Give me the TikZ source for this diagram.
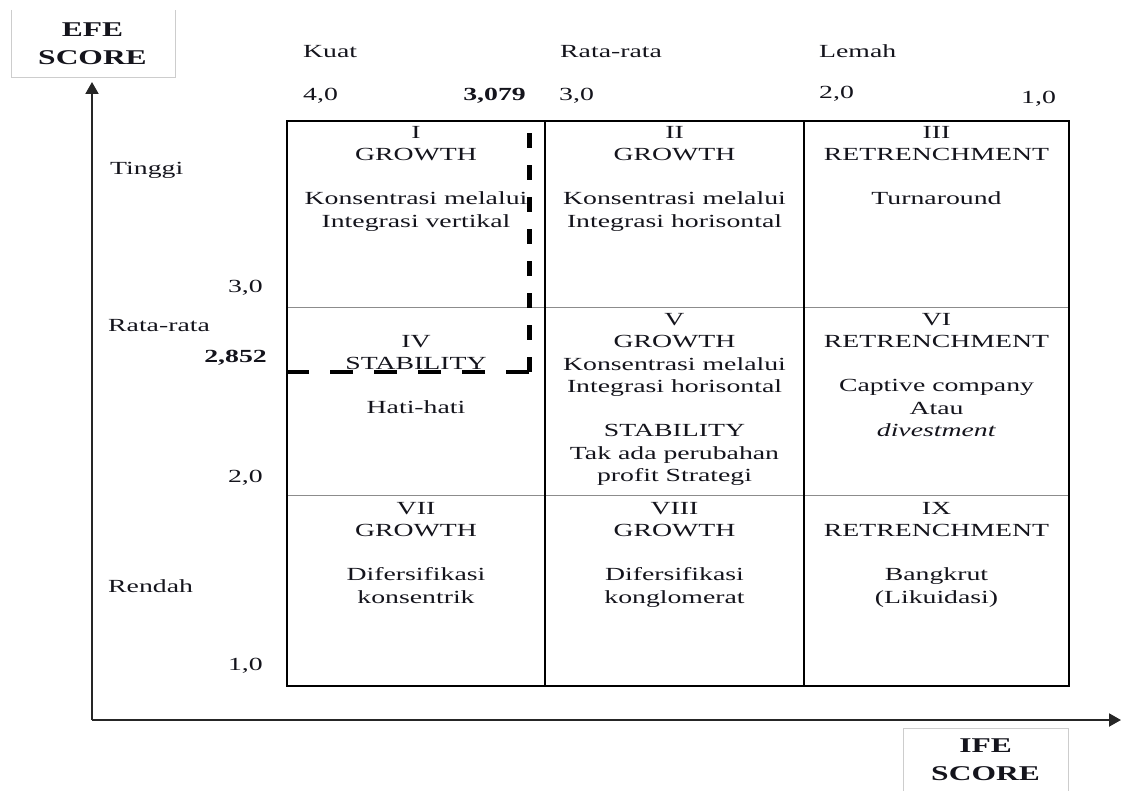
\documentclass[tikz,border=0pt]{standalone}
\usepackage{fontspec}
\setmainfont{Liberation Serif}[FakeStretch=1.5]
\usetikzlibrary{arrows.meta}
\definecolor{txt}{RGB}{20,20,28}
\definecolor{faint}{RGB}{205,205,205}
\begin{document}
\begin{tikzpicture}[x=1pt,y=-1pt,
  lbl/.style={font=\fontsize{18.5}{22.5}\selectfont, inner sep=0pt, text=txt},
  lblw/.style={lbl, anchor=base west},
  lble/.style={lbl, anchor=base east},
  boldlbl/.style={lbl, font=\fontsize{18.5}{22.5}\selectfont\bfseries, anchor=base east},
  cellt/.style={lbl, align=center, anchor=north},
  axistitle/.style={inner sep=0pt, text=txt, align=center, anchor=north,
     font=\fontsize{21}{28}\selectfont\bfseries},
  titlebox/.style={draw=faint, line width=1pt},
  axis/.style={line width=2pt, draw=black!85, -{Triangle[length=12pt,width=13pt]}},
  outer/.style={line width=1.6pt, draw=black},
  rowline/.style={line width=1pt, draw=black!45},
  colline/.style={line width=1.6pt, draw=black},
  marker/.style={line width=5pt, draw=black}]
\useasboundingbox (0,0) rectangle (1121,791);

% title boxes
\draw[titlebox] (11,10) -- (11,78) -- (175,78) -- (175,10);
\node[axistitle] (efe) at (92.5,37-19.8) {\strut EFE\\SCORE};
\draw[titlebox] (903,791) -- (903,728) -- (1068,728) -- (1068,791);
\node[axistitle] (ife) at (985.5,752-19.8) {\strut IFE\\SCORE};

% axes
\coordinate (O) at (92,720);
\coordinate (Ytop) at (92,82);
\coordinate (Xend) at (1121,720);
\draw[axis] (O) -- (Ytop);
\draw[axis] (O) -- (Xend);

% grid
\coordinate (TL) at (287,121);
\coordinate (BR) at (1069,686);
\draw[rowline] (287,308) -- (1069,308);
\draw[rowline] (287,495) -- (1069,495);
\draw[colline] (545,121) -- (545,686);
\draw[colline] (804,121) -- (804,686);
\draw[outer] (TL) rectangle (BR);

% position marker
\coordinate (P) at (529,372);
\draw[marker, dash pattern=on 15pt off 17pt] (P) -- (529,121);
\draw[line width=4pt, dash pattern=on 23pt off 21pt] (P) -- (287,372);

% top labels
\node[lblw] (kuat) at (303,58) {Kuat};
\node[lblw] (rata1) at (560,58) {Rata-rata};
\node[lblw] (lemah) at (819,58) {Lemah};
\node[lblw] (x40) at (303,101) {4,0};
\node[boldlbl] (x3079) at (526,101) {3,079};
\node[lblw] (x30) at (559,101) {3,0};
\node[lblw] (x20) at (819,99) {2,0};
\node[lblw] (x10) at (1021,104) {1,0};

% left labels
\node[lblw] (tinggi) at (110,175) {Tinggi};
\node[lble] (y30) at (263,293) {3,0};
\node[lblw] (rata2) at (108,331) {Rata-rata};
\node[boldlbl] (y2852) at (267,362) {2,852};
\node[lble] (y20) at (263,482) {2,0};
\node[lblw] (rendah) at (108,592) {Rendah};
\node[lble] (y10) at (263,670) {1,0};

% cells
\node[cellt] (c1) at (416,138-15.75) {\strut I\\GROWTH\\[21.5pt]Konsentrasi melalui\\Integrasi vertikal};
\node[cellt] (c2) at (674.5,138-15.75) {\strut II\\GROWTH\\[21.5pt]Konsentrasi melalui\\Integrasi horisontal};
\node[cellt] (c3) at (936.5,138-15.75) {\strut III\\RETRENCHMENT\\[21.5pt]Turnaround};
\node[cellt] (c4) at (416,347-15.75) {\strut IV\\STABILITY\\[21.5pt]Hati-hati};
\node[cellt] (c5) at (674.5,325-15.75) {\strut V\\GROWTH\\Konsentrasi melalui\\Integrasi horisontal\\[21.5pt]STABILITY\\Tak ada perubahan\\profit Strategi};
\node[cellt] (c6) at (936.5,325-15.75) {\strut VI\\RETRENCHMENT\\[21.5pt]Captive company\\Atau\\\textit{divestment}};
\node[cellt] (c7) at (416,514-15.75) {\strut VII\\GROWTH\\[21.5pt]Difersifikasi\\konsentrik};
\node[cellt] (c8) at (674.5,514-15.75) {\strut VIII\\GROWTH\\[21.5pt]Difersifikasi\\konglomerat};
\node[cellt] (c9) at (936.5,514-15.75) {\strut IX\\RETRENCHMENT\\[21.5pt]Bangkrut\\(Likuidasi)};
\end{tikzpicture}
\end{document}
